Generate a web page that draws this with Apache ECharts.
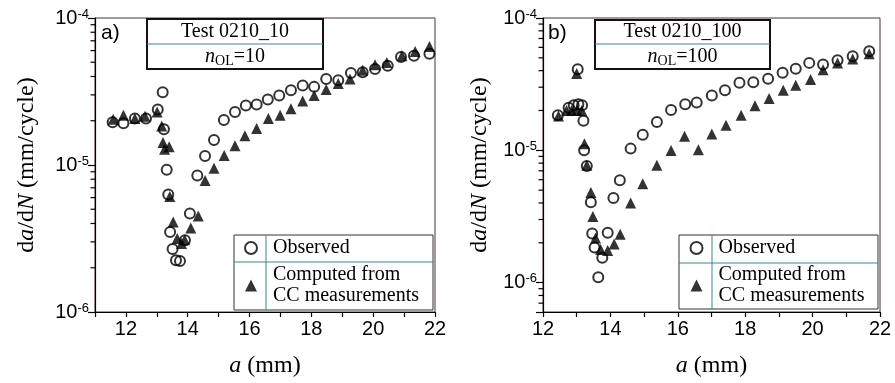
<!DOCTYPE html>
<html>
<head>
<meta charset="utf-8">
<script src="https://cdn.jsdelivr.net/npm/echarts@6/dist/echarts.min.js"></script>
<style>
html,body{margin:0;padding:0;background:#fff}
#chart{width:895px;height:383px}
</style>
</head>
<body>
<div id="chart"></div>
<script>
// a) Test 0210_10 : [a (mm), da/dN (mm/cycle)]
const obsA = [
    [11.57,1.95e-5],[11.92,1.92e-5],[12.29,2.07e-5],[12.65,2.07e-5],[13.03,2.39e-5],[13.19,3.12e-5],
    [13.23,1.75e-5],[13.32,9.3e-6],[13.37,6.3e-6],[13.43,3.5e-6],[13.51,2.68e-6],[13.62,2.25e-6],
    [13.75,2.22e-6],[13.91,3.08e-6],[14.07,4.67e-6],[14.31,8.47e-6],[14.56,1.15e-5],[14.85,1.48e-5],
    [15.17,2.02e-5],[15.53,2.29e-5],[15.88,2.54e-5],[16.23,2.58e-5],[16.59,2.79e-5],[16.96,2.97e-5],
    [17.34,3.23e-5],[17.72,3.47e-5],[18.09,3.4e-5],[18.48,3.85e-5],[18.87,3.77e-5],[19.28,4.23e-5],
    [19.66,4.27e-5],[20.06,4.5e-5],[20.47,4.74e-5],[20.9,5.42e-5],[21.32,5.53e-5],[21.82,5.71e-5]
];
const ccA = [
    [11.59,2.05e-5],[11.92,2.18e-5],[12.29,2.07e-5],[12.62,2.15e-5],[13.01,2.29e-5],[13.16,1.84e-5],
    [13.2,1.42e-5],[13.25,1.28e-5],[13.4,1.33e-5],[13.42,6.1e-6],[13.53,4.1e-6],[13.66,3.16e-6],
    [13.8,2.92e-6],[13.9,3.1e-6],[14.1,3.73e-6],[14.34,4.5e-6],[14.56,7.83e-6],[14.85,9.5e-6],
    [15.18,1.16e-5],[15.53,1.35e-5],[15.85,1.58e-5],[16.23,1.77e-5],[16.61,2.07e-5],[16.99,2.18e-5],
    [17.34,2.41e-5],[17.72,2.72e-5],[18.09,2.97e-5],[18.48,3.26e-5],[18.87,3.58e-5],[19.25,3.85e-5],
    [19.66,4.41e-5],[20.06,4.81e-5],[20.44,4.99e-5],[20.93,5.53e-5],[21.36,5.91e-5],[21.82,6.4e-5]
];
// b) Test 0210_100
const obsB = [
    [12.44,1.84e-5],[12.76,2.1e-5],[12.91,2.19e-5],[13.05,2.23e-5],[13.16,2.19e-5],[13.03,4.1e-5],
    [13.2,1.67e-5],[13.22,1.0e-5],[13.3,7.6e-6],[13.42,4.05e-6],[13.46,2.35e-6],[13.53,1.84e-6],
    [13.64,1.1e-6],[13.76,1.54e-6],[13.92,2.38e-6],[14.09,4.37e-6],[14.28,5.94e-6],[14.6,1.03e-5],
    [14.96,1.31e-5],[15.38,1.64e-5],[15.8,2.02e-5],[16.22,2.23e-5],[16.56,2.3e-5],[17.01,2.6e-5],
    [17.4,2.85e-5],[17.83,3.24e-5],[18.24,3.27e-5],[18.68,3.47e-5],[19.11,3.85e-5],[19.5,4.13e-5],
    [19.9,4.58e-5],[20.31,4.45e-5],[20.74,4.79e-5],[21.19,5.13e-5],[21.68,5.6e-5]
];
const ccB = [
    [12.46,1.82e-5],[12.7,2.0e-5],[12.85,2.0e-5],[13.0,2.0e-5],[13.15,2.0e-5],[13.0,3.8e-5],
    [13.23,1.12e-5],[13.3,7.7e-6],[13.42,4.8e-6],[13.48,3.16e-6],[13.56,2.17e-6],[13.71,1.78e-6],
    [13.92,1.75e-6],[14.11,1.96e-6],[14.29,2.32e-6],[14.6,4.0e-6],[14.96,5.6e-6],[15.38,7.7e-6],
    [15.8,9.98e-6],[16.2,1.28e-5],[16.61,1.01e-5],[17.01,1.33e-5],[17.43,1.55e-5],[17.88,1.84e-5],
    [18.29,2.17e-5],[18.71,2.46e-5],[19.13,2.85e-5],[19.5,3.1e-5],[19.94,3.43e-5],[20.31,4.07e-5],
    [20.74,4.58e-5],[21.19,4.9e-5],[21.68,5.37e-5]
];
// 对数轴的小刻度
const minorTicksA = [2e-6,3e-6,4e-6,5e-6,6e-6,7e-6,8e-6,9e-6,2e-5,3e-5,4e-5,5e-5,6e-5,7e-5,8e-5,9e-5];
const minorTicksB = [7e-7,8e-7,9e-7].concat(minorTicksA);
const xRangeA = [11, 22];
const xRangeB = [12, 22];
const yRangeA = [1e-6, 1e-4];
const yRangeB = [6e-7, 1e-4];
const titlesA = ['Test 0210_10', '{i|n}{sub|OL}=10'];
const titlesB = ['Test 0210_100', '{i|n}{sub|OL}=100'];
const legendNames = ['Observed', 'Computed from\nCC measurements'];

const serif = 'Liberation Serif';
const sans = 'Liberation Sans';

function powLabel(v){
    let l = Math.log10(v);
    let e = Math.round(l);
    if (Math.abs(l - e) > 1e-6) return '';
    return '10{sup|' + e + '}';
}

function xAxisOf(idx, range){
    return {
        type: 'value', gridIndex: idx, min: range[0], max: range[1], interval: 1,
        name: '{i|a} (mm)', nameLocation: 'middle', nameGap: 42, nameMoveOverlap: false,
        nameTextStyle: {fontFamily: serif, fontSize: 24, color: '#000', rich: {i: {fontFamily: serif, fontSize: 24, fontStyle: 'italic'}}},
        axisLine: {show: true, lineStyle: {color: '#000', width: 1.2}},
        axisTick: {show: true, length: 5, lineStyle: {color: '#000', width: 1.2}},
        axisLabel: {
            margin: 7, color: '#000', fontFamily: sans, fontSize: 20,
            formatter: function(v){ return v % 2 === 0 ? String(v) : ''; }
        },
        splitLine: {show: false}
    };
}

function yAxisOf(idx, range, gap){
    return {
        type: 'log', gridIndex: idx, min: range[0], max: range[1], logBase: 10,
        name: 'd{i|a}/d{i|N} (mm/cycle)', nameLocation: 'middle', nameGap: gap, nameMoveOverlap: false,
        nameTextStyle: {fontFamily: serif, fontSize: 24, color: '#000', rich: {i: {fontFamily: serif, fontSize: 24, fontStyle: 'italic'}}},
        axisLine: {show: true, lineStyle: {color: '#000', width: 1.2}},
        axisTick: {show: true, length: 7, lineStyle: {color: '#000', width: 1.2}},
        axisLabel: {
            margin: 6, color: '#000', fontFamily: sans, fontSize: 20,
            formatter: powLabel,
            rich: {sup: {fontFamily: sans, fontSize: 13, verticalAlign: 'top', color: '#000', padding: [0, 0, 8, 0]}}
        },
        splitLine: {show: false}
    };
}

function minorTickSeries(idx, ticks, xMin){
    return {
        type: 'custom', xAxisIndex: idx, yAxisIndex: idx, silent: true, clip: false, z: 10,
        data: ticks.map(v => [xMin, v]),
        renderItem: function(params, api){
            let p = api.coord([api.value(0), api.value(1)]);
            return {type: 'line', shape: {x1: p[0] - 4.5, y1: p[1], x2: p[0], y2: p[1]}, style: {stroke: '#000', lineWidth: 1.2}};
        }
    };
}

function scatterSeries(idx, name, data){
    let circle = name === legendNames[0];
    return {
        type: 'scatter', name: name, xAxisIndex: idx, yAxisIndex: idx, data: data,
        symbol: circle ? 'circle' : 'triangle',
        symbolSize: circle ? 10 : 11,
        z: circle ? 2 : 3,
        itemStyle: circle ? {color: 'rgba(0,0,0,0)', borderColor: '#000', borderWidth: 2} : {color: '#000'}
    };
}

function legendOf(left){
    return {
        left: left, top: 237.5, orient: 'vertical', padding: 0, itemWidth: 12, itemHeight: 12, itemGap: 6,
        selectedMode: false, data: legendNames,
        textStyle: {fontFamily: serif, fontSize: 20, lineHeight: 21, color: '#000', padding: [0, 0, 0, 11]}
    };
}

// 表格状的框
function boxGraphics(x, y, w, h, splitY, splitX, outer){
    let g = [
        {type: 'rect', shape: {x: x, y: y, width: w, height: h}, style: {fill: 'none', stroke: outer.color, lineWidth: outer.width}},
        {type: 'line', shape: {x1: x, y1: splitY, x2: x + w, y2: splitY}, style: {stroke: '#3d8590', lineWidth: 1}}
    ];
    if (splitX) g.push({type: 'line', shape: {x1: splitX, y1: y, x2: splitX, y2: y + h}, style: {stroke: '#3d8590', lineWidth: 1}});
    return g;
}

function titleTexts(cx, y1, y2, lines){
    let rich = {
        i: {fontFamily: serif, fontSize: 20, fontStyle: 'italic', fill: '#000', lineHeight: 24},
        sub: {fontFamily: serif, fontSize: 14, fill: '#000', verticalAlign: 'bottom', lineHeight: 24}
    };
    return [
        {type: 'text', x: cx, y: y1, style: {text: lines[0], font: '20px "Liberation Serif"', fill: '#000', align: 'center', verticalAlign: 'middle'}},
        {type: 'text', x: cx, y: y2, style: {text: lines[1], font: '20px "Liberation Serif"', fill: '#000', align: 'center', verticalAlign: 'middle', lineHeight: 24, rich: rich}}
    ];
}

let chart = echarts.init(document.getElementById('chart'));
let option = {
    animation: false,
    backgroundColor: '#fff',
    grid: [
        {left: 95, top: 18, width: 340, height: 296, show: true, borderColor: '#4a3530', borderWidth: 1},
        {left: 543, top: 18, width: 337, height: 296, show: true, borderColor: '#4a3530', borderWidth: 1}
    ],
    xAxis: [xAxisOf(0, xRangeA), xAxisOf(1, xRangeB)],
    yAxis: [yAxisOf(0, yRangeA, 56), yAxisOf(1, yRangeB, 51)],
    legend: [legendOf(244), legendOf(689.5)],
    series: [
        minorTickSeries(0, minorTicksA, xRangeA[0]),
        minorTickSeries(1, minorTicksB, xRangeB[0]),
        scatterSeries(0, legendNames[0], obsA),
        scatterSeries(0, legendNames[1], ccA),
        scatterSeries(1, legendNames[0], obsB),
        scatterSeries(1, legendNames[1], ccB)
    ],
    graphic: [].concat(
        boxGraphics(147, 19, 176, 50, 44, null, {color: '#111', width: 2}),
        boxGraphics(595, 20, 175, 49, 44, null, {color: '#111', width: 2}),
        boxGraphics(234, 235, 199, 75, 262, 266, {color: '#333', width: 1}),
        boxGraphics(679, 235, 199, 74, 263, 712, {color: '#333', width: 1}),
        titleTexts(235, 31.5, 56.5, titlesA),
        titleTexts(682.5, 32, 56.5, titlesB),
        [
            {type: 'text', x: 101, y: 33, style: {text: 'a)', font: '21px "Liberation Sans"', fill: '#000', verticalAlign: 'middle'}},
            {type: 'text', x: 548, y: 33, style: {text: 'b)', font: '21px "Liberation Sans"', fill: '#000', verticalAlign: 'middle'}}
        ]
    )
};
chart.setOption(option);

window.onresize = function () {
    chart.resize();
};
</script>
</body>
</html>
